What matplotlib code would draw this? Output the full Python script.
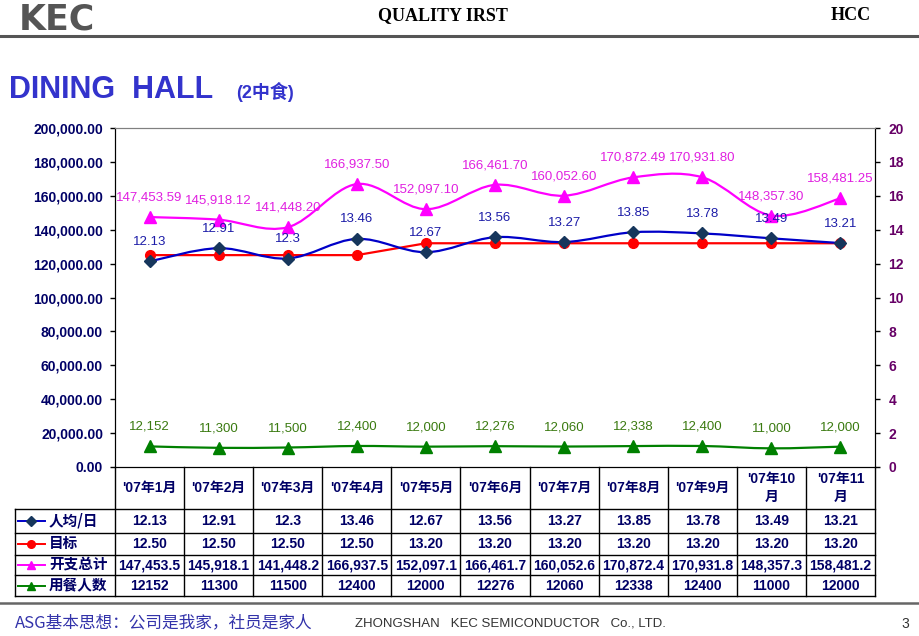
import math
import numpy as np
import matplotlib
matplotlib.use('Agg')
import matplotlib.pyplot as plt
from matplotlib.path import Path
from matplotlib.patches import PathPatch
from matplotlib.lines import Line2D

plt.rcParams['font.family'] = ['Liberation Sans', 'Noto Sans CJK SC', 'DejaVu Sans']

# data
months = ["'07年1月", "'07年2月", "'07年3月", "'07年4月", "'07年5月", "'07年6月",
          "'07年7月", "'07年8月", "'07年9月", "'07年10\n月", "'07年11\n月"]
per_day = [12.13, 12.91, 12.3, 13.46, 12.67, 13.56, 13.27, 13.85, 13.78, 13.49, 13.21]
target = [12.50, 12.50, 12.50, 12.50, 13.20, 13.20, 13.20, 13.20, 13.20, 13.20, 13.20]
expense = [147453.59, 145918.12, 141448.20, 166937.50, 152097.10, 166461.70,
           160052.60, 170872.49, 170931.80, 148357.30, 158481.25]
diners = [12152, 11300, 11500, 12400, 12000, 12276, 12060, 12338, 12400, 11000, 12000]
row_names = ['人均/日', '目标', '开支总计', '用餐人数']

W, H = 920, 636
fig = plt.figure(figsize=(W / 100, H / 100), dpi=100)


def fx(x):
    return x / W


def fy(y):
    return 1 - y / H


def smooth(xs, ys):
    pts = np.column_stack([xs, ys]).astype(float)
    n = len(pts)
    verts = [pts[0]]
    codes = [Path.MOVETO]
    for i in range(n - 1):
        p0 = pts[max(i - 1, 0)]
        p1 = pts[i]
        p2 = pts[i + 1]
        p3 = pts[min(i + 2, n - 1)]
        verts += [p1 + (p2 - p0) / 6, p2 - (p3 - p1) / 6, p2]
        codes += [Path.CURVE4] * 3
    return Path(verts, codes)


blue, red, mag, green = '#0000c8', '#ff0000', '#ff00ff', '#008000'
navy = '#000066'

# ---- header / footer
fig.text(fx(19), fy(20), 'KEC', fontsize=25, fontweight='bold', color='#555555',
         family='DejaVu Sans', va='center', ha='left')
fig.text(fx(443), fy(16), 'QUALITY IRST', fontsize=13, fontweight='bold',
         family='Liberation Serif', ha='center', va='center')
fig.text(fx(851), fy(16), 'HCC', fontsize=13, fontweight='bold',
         family='Liberation Serif', ha='center', va='center')
fig.add_artist(Line2D([0, 1], [fy(36), fy(36)], color='#555555', lw=2.2))

fig.text(fx(9), fy(90), 'DINING  HALL', fontsize=22, fontweight='bold', color='#3333cc',
         va='center', ha='left')
fig.text(fx(236), fy(92), '(2中食)', fontsize=13, fontweight='bold', color='#3333cc',
         va='center', ha='left')

fig.add_artist(Line2D([0, 1], [fy(603), fy(603)], color='#666666', lw=1.8))
fig.text(fx(15), fy(623), 'ASG基本思想：公司是我家，社员是家人', fontsize=12, color='#3333aa',
         family=['Noto Sans CJK SC'], va='center', ha='left')
fig.text(fx(355), fy(624), 'ZHONGSHAN   KEC SEMICONDUCTOR   Co., LTD.', fontsize=9.5,
         color='#333333', va='center', ha='left')
fig.text(fx(905), fy(624), '3', fontsize=10, color='#333333', va='center', ha='center')

# ---- chart
L, R, T, B = 115, 875, 128, 467
ax = fig.add_axes([fx(L), fy(B), fx(R - L), (B - T) / H])
ax2 = ax.twinx()
x = np.arange(len(months))

ax.set_xlim(-0.5, len(months) - 0.5)
ax.set_ylim(0, 200000)
ax2.set_ylim(0, 20)
ax.set_xticks([])
ax.set_yticks(np.arange(0, 200001, 20000))
ax.set_yticklabels(['{:,.2f}'.format(v) for v in np.arange(0, 200001, 20000)])
ax2.set_yticks(np.arange(0, 21, 2))
ax.tick_params(axis='y', direction='out', length=3.6, width=1, pad=5, labelsize=10,
               labelcolor=navy)
ax2.tick_params(axis='y', direction='out', length=3.6, width=1, pad=6, labelsize=10,
                labelcolor='#660066')
for t in ax.get_yticklabels() + ax2.get_yticklabels():
    t.set_fontweight('bold')
for a in (ax, ax2):
    a.spines['top'].set_color('#808080')
    a.spines['top'].set_linewidth(0.8)
    a.patch.set_visible(False)

# expense (left axis)
ax.add_patch(PathPatch(smooth(x, expense), fill=False, edgecolor=mag, lw=1.6, zorder=3))
ax.plot(x, expense, ls='none', marker='^', ms=8, color=mag, zorder=4)
for xi, v in zip(x, expense):
    ax.annotate('{:,.2f}'.format(v), (xi, v), xytext=(0, 14), textcoords='offset points',
                ha='center', va='center', fontsize=9.5, color='#e020e0')

# diners (left axis)
ax.add_patch(PathPatch(smooth(x, diners), fill=False, edgecolor=green, lw=1.6, zorder=3))
ax.plot(x, diners, ls='none', marker='^', ms=8, color=green, zorder=4)
for xi, v in zip(x, diners):
    ax.annotate('{:,}'.format(v), (xi, v), xytext=(0, 14), textcoords='offset points',
                ha='center', va='center', fontsize=9.5, color='#3a7a10')

# target and per day (right axis)
ax2.plot(x, target, color=red, lw=1.6, marker='o', ms=7, zorder=3)
ax2.add_patch(PathPatch(smooth(x, per_day), fill=False, edgecolor=blue, lw=1.6, zorder=4))
ax2.plot(x, per_day, ls='none', marker='D', ms=6, color='#16365c', zorder=5)
for xi, v in zip(x, per_day):
    ax2.annotate(str(v), (xi, v), xytext=(0, 14), textcoords='offset points',
                 ha='center', va='center', fontsize=9.5, color='#1c1ca8')

# ---- data table
col_w = (R - L) / len(months)
rows_y = [467, 509, 533, 555, 575, 596]


def hline(y, x0, x1):
    fig.add_artist(Line2D([fx(x0), fx(x1)], [fy(y), fy(y)], color='black', lw=1))


def vline(xp, y0, y1):
    fig.add_artist(Line2D([fx(xp), fx(xp)], [fy(y0), fy(y1)], color='black', lw=1))


for y in rows_y[1:]:
    hline(y, 15, R)
vline(15, rows_y[1], rows_y[-1])
for i in range(len(months) + 1):
    vline(L + i * col_w, rows_y[0], rows_y[-1])

row_text = [
    [str(v) for v in per_day],
    ['{:.2f}'.format(v) for v in target],
    ['{:,.1f}'.format(math.floor(v * 10) / 10) for v in expense],
    [str(v) for v in diners],
]
row_style = [(blue, 'D', '#16365c'), (red, 'o', red), (mag, '^', mag), (green, '^', green)]

for i, m in enumerate(months):
    cx = L + (i + 0.5) * col_w
    fig.text(fx(cx), fy(488), m, ha='center', va='center', fontsize=10, fontweight='bold',
             color=navy, linespacing=1.3)
    for r in range(4):
        cy = (rows_y[r + 1] + rows_y[r + 2]) / 2
        fig.text(fx(cx), fy(cy), row_text[r][i], ha='center', va='center', fontsize=10,
                 fontweight='bold', color=navy)

for r in range(4):
    cy = (rows_y[r + 1] + rows_y[r + 2]) / 2
    lc, mk, mc = row_style[r]
    fig.add_artist(Line2D([fx(18), fx(45)], [fy(cy), fy(cy)], color=lc, lw=1.4))
    fig.add_artist(Line2D([fx(31.5)], [fy(cy)], marker=mk, color=mc, ms=5.5, ls='none'))
    fig.text(fx(49), fy(cy - 1), row_names[r], ha='left', va='center', fontsize=10.5,
             fontweight='bold', color=navy, family=['Noto Sans CJK SC'])

fig.savefig('out.png', dpi=100)
